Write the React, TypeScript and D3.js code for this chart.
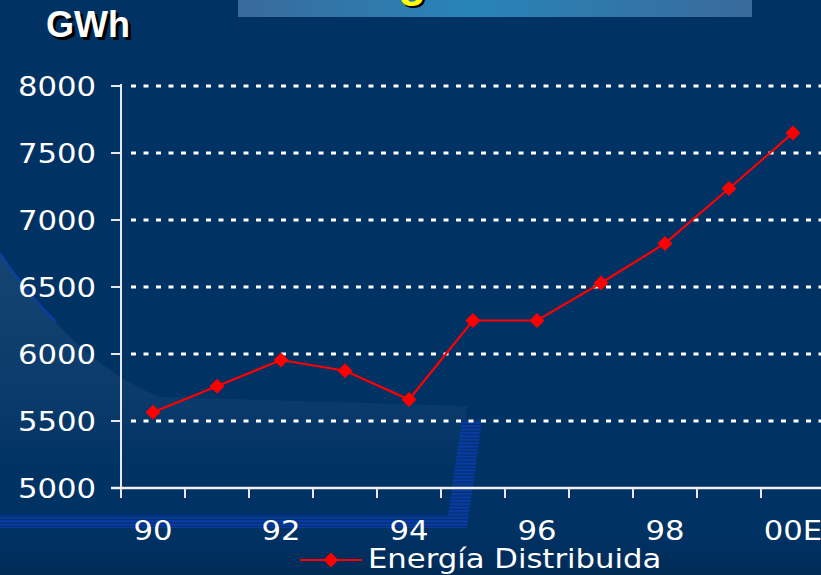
import React from 'react';
import * as d3 from 'd3';

const categories = ['90', '91', '92', '93', '94', '95', '96', '97', '98', '99', '00E'];
const energia = [5565, 5760, 5955, 5875, 5660, 6250, 6250, 6530, 6825, 7235, 7650];
const yTicks = [5000, 5500, 6000, 6500, 7000, 7500, 8000];
const seriesName = 'Energía Distribuida';
const unitLabel = 'GWh';
const titleText = 'Energía Distribuida';

const W = 821;
const H = 575;
const SX = 1.18;
const FONT = '"DejaVu Sans", Verdana, sans-serif';
const BOLD = '"Liberation Sans", Arial, sans-serif';

export default function App() {
  const x = d3.scaleBand<string>().domain(categories).range([121, 825]).paddingInner(0).paddingOuter(0);
  const y = d3.scaleLinear().domain([5000, 8000]).range([488, 86]);
  const cx = (c: string) => (x(c) as number) + x.bandwidth() / 2;
  const line = d3
    .line<number>()
    .x((_, i) => cx(categories[i]))
    .y((v) => y(v));
  const diamond = (px: number, py: number, r = 7.5) =>
    `M${px},${py - r}L${px + r},${py}L${px},${py + r}L${px - r},${py}Z`;
  const bandTicks = categories.map((c) => x(c) as number);

  return (
    <svg
      width={W}
      height={H}
      style={{ position: 'absolute', left: 0, top: 0, display: 'block' }}
      xmlns="http://www.w3.org/2000/svg"
    >
      <defs>
        <linearGradient id="bg" x1="0" y1="0" x2="0" y2="1">
          <stop offset="0" stopColor="#003264" />
          <stop offset="0.93" stopColor="#003264" />
          <stop offset="1" stopColor="#002b58" />
        </linearGradient>
        <linearGradient id="titleG" x1="0" y1="0" x2="1" y2="0">
          <stop offset="0" stopColor="#3a6a9c" />
          <stop offset="0.45" stopColor="#2884b8" />
          <stop offset="1" stopColor="#3a6a9c" />
        </linearGradient>
        <linearGradient id="swoosh" gradientUnits="userSpaceOnUse" x1="0" y1="250" x2="0" y2="470">
          <stop offset="0" stopColor="#ffffff" stopOpacity="0.09" />
          <stop offset="0.7" stopColor="#ffffff" stopOpacity="0.04" />
          <stop offset="1" stopColor="#ffffff" stopOpacity="0" />
        </linearGradient>
        <pattern id="stripes" patternUnits="userSpaceOnUse" width="8" height="3.4">
          <rect x="0" y="0" width="8" height="2.2" fill="#0a3aa8" />
        </pattern>
        <clipPath id="titleClip">
          <rect x={0} y={0} width={W} height={20} />
        </clipPath>
      </defs>

      <rect x={0} y={0} width={W} height={H} fill="url(#bg)" />

      {/* decorative swoosh */}
      <path d="M0,252 C40,312 95,372 160,397 L467,406 L460,470 L0,470 Z" fill="url(#swoosh)" />
      <path d="M0,254 C18,280 36,302 56,322" fill="none" stroke="#0a40b0" strokeWidth={2.5} opacity={0.7} />
      <path d="M0,515 L448,515 L462,420 L482,420 L467,528 L0,528 Z" fill="url(#stripes)" />

      {/* title box */}
      <rect x={238} y={0} width={514} height={17} fill="url(#titleG)" />
      <g clipPath="url(#titleClip)">
        <text x={298} y={-2} fontFamily={BOLD} fontWeight="bold" fontSize={46} fill="#000">
          {titleText}
        </text>
        <text x={296} y={-4} fontFamily={BOLD} fontWeight="bold" fontSize={46} fill="#ffff00">
          {titleText}
        </text>
      </g>

      {/* unit label */}
      <text x={49} y={40} fontFamily={BOLD} fontWeight="bold" fontSize={36} fill="#000">
        {unitLabel}
      </text>
      <text x={46} y={37} fontFamily={BOLD} fontWeight="bold" fontSize={36} fill="#fff">
        {unitLabel}
      </text>

      {/* gridlines */}
      {yTicks
        .filter((t) => t !== 5000)
        .map((t) => (
          <line
            key={'g' + t}
            x1={131}
            x2={W}
            y1={y(t)}
            y2={y(t)}
            stroke="#fff"
            strokeWidth={3}
            strokeDasharray="5 7.5"
          />
        ))}

      {/* y axis */}
      <line x1={121} x2={121} y1={84} y2={498} stroke="#e8e8e8" strokeWidth={2} />
      {yTicks.map((t) => (
        <g key={'y' + t}>
          <line x1={111} x2={121} y1={y(t)} y2={y(t)} stroke="#e8e8e8" strokeWidth={2} />
          <text
            transform={`translate(96,${y(t) + 9.5}) scale(${SX},1)`}
            textAnchor="end"
            fontFamily={FONT}
            fontSize={26}
            fill="#fff"
          >
            {t}
          </text>
        </g>
      ))}

      {/* x axis */}
      <line x1={111} x2={W} y1={488} y2={488} stroke="#f0f0f0" strokeWidth={2.5} />
      {bandTicks.map((bx, i) => (
        <line key={'xt' + i} x1={bx} x2={bx} y1={488} y2={498} stroke="#e8e8e8" strokeWidth={2} />
      ))}
      {categories.map((c, i) =>
        i % 2 === 0 ? (
          <text
            key={'xl' + c}
            transform={`translate(${cx(c)},540) scale(${SX},1)`}
            textAnchor="middle"
            fontFamily={FONT}
            fontSize={26}
            fill="#fff"
          >
            {c}
          </text>
        ) : null
      )}

      {/* series */}
      <path d={line(energia) || ''} fill="none" stroke="#ff0000" strokeWidth={2.2} />
      {energia.map((v, i) => (
        <path key={'m' + i} d={diamond(cx(categories[i]), y(v))} fill="#ff0000" />
      ))}

      {/* legend */}
      <line x1={300} x2={362} y1={560} y2={560} stroke="#ff0000" strokeWidth={2.2} />
      <path d={diamond(331, 560)} fill="#ff0000" />
      <text
        transform={`translate(368,568) scale(${SX},1)`}
        fontFamily={FONT}
        fontSize={26}
        fill="#fff"
      >
        {seriesName}
      </text>
    </svg>
  );
}
